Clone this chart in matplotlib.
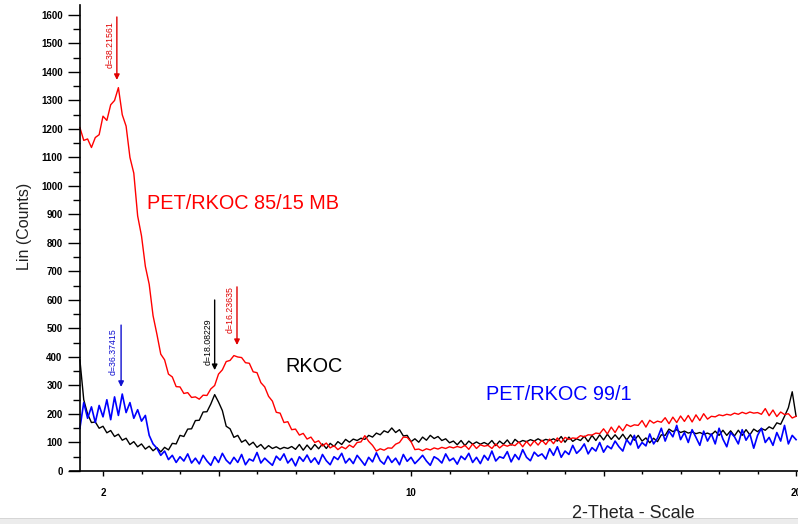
import numpy as np
import matplotlib
matplotlib.use('Agg')
import matplotlib.pyplot as plt
from matplotlib.patches import Rectangle
from matplotlib.ticker import MultipleLocator, FixedLocator

plt.rcParams['font.family'] = ['Liberation Sans', 'DejaVu Sans']

# 2-theta scan grid (deg), 0.1 step
two_theta = np.linspace(1.4, 20.0, 187)

# PET/RKOC 85/15 MB
red_counts = [
    1205, 1160, 1165, 1135, 1170, 1180, 1245, 1230, 1285, 1300,
    1345, 1250, 1210, 1100, 1045, 895, 825, 718, 655, 545,
    480, 410, 390, 340, 330, 296, 295, 272, 275, 258,
    260, 252, 266, 265, 288, 300, 340, 355, 384, 388,
    405, 400, 398, 380, 378, 348, 345, 310, 295, 262,
    245, 206, 203, 170, 173, 145, 147, 126, 132, 112,
    119, 100, 106, 88, 98, 81, 89, 75, 85, 78,
    91, 83, 100, 102, 124, 104, 90, 70, 78, 73,
    81, 80, 94, 100, 119, 118, 103, 75, 77, 71,
    78, 74, 81, 77, 83, 79, 85, 81, 86, 82,
    90, 76, 95, 79, 92, 87, 90, 79, 95, 81,
    92, 87, 93, 89, 102, 85, 104, 88, 106, 91,
    108, 93, 112, 96, 116, 100, 118, 111, 116, 114,
    124, 120, 127, 126, 133, 131, 148, 130, 154, 135,
    158, 141, 163, 156, 162, 160, 177, 154, 178, 168,
    175, 171, 187, 166, 189, 170, 193, 174, 195, 172,
    197, 177, 201, 182, 192, 190, 197, 194, 199, 196,
    203, 199, 206, 201, 207, 203, 205, 199, 219, 194,
    214, 191, 207, 198, 201, 186, 192,
]

# RKOC
black_counts = [
    390, 250, 200, 170, 172, 150, 157, 134, 142, 121,
    129, 108, 115, 93, 103, 85, 95, 77, 87, 71,
    82, 67, 83, 74, 97, 95, 125, 121, 147, 148,
    177, 178, 207, 208, 235, 268, 242, 212, 157, 148,
    118, 125, 101, 109, 91, 101, 83, 93, 77, 89,
    79, 85, 77, 83, 79, 86, 76, 93, 73, 91,
    75, 93, 78, 95, 79, 97, 86, 103, 93, 111,
    101, 112, 107, 115, 111, 125, 119, 133, 127, 141,
    135, 151, 135, 145, 123, 125, 103, 113, 101, 119,
    108, 125, 114, 121, 107, 113, 99, 105, 92, 107,
    89, 105, 94, 102, 94, 100, 93, 107, 89, 105,
    94, 109, 91, 111, 100, 107, 103, 110, 105, 113,
    105, 111, 107, 113, 105, 121, 101, 119, 104, 113,
    107, 122, 103, 125, 107, 127, 109, 129, 111, 127,
    111, 129, 109, 127, 108, 125, 105, 116, 99, 115,
    103, 127, 125, 147, 138, 145, 135, 140, 133, 137,
    131, 135, 129, 133, 127, 140, 125, 143, 125, 141,
    123, 143, 125, 145, 127, 147, 138, 149, 143, 155,
    148, 169, 164, 192, 222, 278, 192,
]

# PET/RKOC 99/1
blue_counts = [
    150, 240, 185, 225, 170, 230, 190, 250, 180, 260,
    195, 270, 205, 240, 185, 215, 175, 195, 125, 95,
    80, 55, 70, 40, 55, 30, 50, 35, 60, 28,
    45, 25, 55, 35, 20, 50, 30, 62, 38, 25,
    48, 30, 58, 22, 42, 35, 65, 28, 45, 32,
    20, 52, 38, 60, 28, 44, 18, 50, 34, 56,
    30, 46, 24, 58, 36, 22, 50, 40, 62, 28,
    44, 26, 55, 38, 20, 48, 32, 64, 36, 24,
    52, 30, 45, 22, 58, 34, 48, 26, 40, 55,
    35, 20, 50, 42, 28, 60, 36, 45, 24, 52,
    40, 62, 30, 48, 26, 55, 38, 70, 35, 50,
    45, 68, 32, 58, 40, 75, 48, 36, 66, 52,
    60, 42, 78, 55, 85, 48, 70, 58, 90, 62,
    75, 95, 60, 82, 70, 100, 66, 88, 78, 105,
    85, 70, 110, 92, 125, 80, 100, 88, 130, 95,
    115, 150, 105, 140, 120, 160, 110, 135, 100, 145,
    118, 90, 140, 105, 130, 95, 150, 112, 85, 135,
    120, 95, 145, 108, 130, 80, 125, 150, 100, 118,
    90, 135, 105, 160, 95, 125, 110,
]

# peak markers
peak_labels = ['d=38.21561', 'd=36.37415', 'd=18.08229', 'd=16.23635']
peak_pos = [2.36, 2.47, 4.90, 5.48]
peak_colors = ['#e00000', '#1010d0', '#000000', '#e00000']

fig = plt.figure(figsize=(7.98, 5.24), dpi=100)
ax = fig.add_axes([70 / 798, 53 / 524, 728 / 798, 466 / 524])

ax.plot(two_theta, black_counts, color='black', lw=1.0)
ax.plot(two_theta, blue_counts, color='#0000ff', lw=1.2)
ax.plot(two_theta, red_counts, color='#ff0000', lw=1.0)

ax.set_xlim(1.143, 20.05)
ax.set_ylim(0, 1635)

# arrows + rotated d-spacing labels
arrow_top = [1593, 512, 600, 646]
arrow_tip = [1372, 295, 354, 442]
text_x = [2.18, 2.26, 4.72, 5.30]
text_y = [1414, 337, 372, 484]
for lab, xp, top, tip, tx, ty, c in zip(peak_labels, peak_pos, arrow_top, arrow_tip,
                                        text_x, text_y, peak_colors):
    ax.annotate('', xy=(xp, tip), xytext=(xp, top),
                arrowprops=dict(arrowstyle='-|>', color=c, lw=1.0,
                                mutation_scale=8, shrinkA=0, shrinkB=0))
    ax.text(tx, ty, lab, rotation=90, ha='center', va='bottom',
            fontsize=6.3, color=c)

# series names
ax.text(3.14, 937, 'PET/RKOC 85/15 MB', color='#ff0000', fontsize=14.3, va='center')
ax.text(6.73, 365, 'RKOC', color='black', fontsize=14.3, va='center')
ax.text(11.95, 267, 'PET/RKOC 99/1', color='#0000ff', fontsize=14.3, va='center')

# axes styling
ax.spines['top'].set_visible(False)
ax.spines['right'].set_visible(False)
ax.spines['left'].set_position(('data', 1.4))
ax.spines['left'].set_linewidth(1.2)
ax.spines['bottom'].set_linewidth(1.2)

ax.yaxis.set_major_locator(FixedLocator(np.arange(0, 1601, 100)))
ax.yaxis.set_minor_locator(FixedLocator(np.arange(50, 1600, 100)))
ax.tick_params(axis='y', which='major', direction='out', length=8.5, width=1, pad=4,
               labelsize=7)
ax.tick_params(axis='y', which='minor', direction='out', length=5, width=1)
for lbl in ax.get_yticklabels():
    lbl.set_fontweight('bold')

ax.xaxis.set_major_locator(FixedLocator([2, 5, 10, 15, 20]))
ax.set_xticklabels(['2', '', '10', '', '20'])
ax.xaxis.set_minor_locator(MultipleLocator(1))
ax.tick_params(axis='x', which='major', direction='out', length=3.5, width=1, pad=9,
               labelsize=7)
ax.tick_params(axis='x', which='minor', direction='out', length=2.5, width=1)
for lbl in ax.get_xticklabels():
    lbl.set_fontweight('bold')

fig.text(25 / 798, 1 - 226 / 524, 'Lin (Counts)', rotation=90, ha='center', va='center',
         fontsize=11.5, color='#222222')
fig.text(633 / 798, 1 - 513 / 524, '2-Theta - Scale', ha='center', va='center',
         fontsize=13, color='#222222')

# window frame strip at the bottom
fig.patches.append(Rectangle((0, 0), 1, 5 / 524, transform=fig.transFigure,
                             facecolor='#ececec', edgecolor='none'))
fig.patches.append(Rectangle((0, 5 / 524), 1, 1 / 524, transform=fig.transFigure,
                             facecolor='#d6d6d6', edgecolor='none'))

fig.savefig('out.png', dpi=100)
